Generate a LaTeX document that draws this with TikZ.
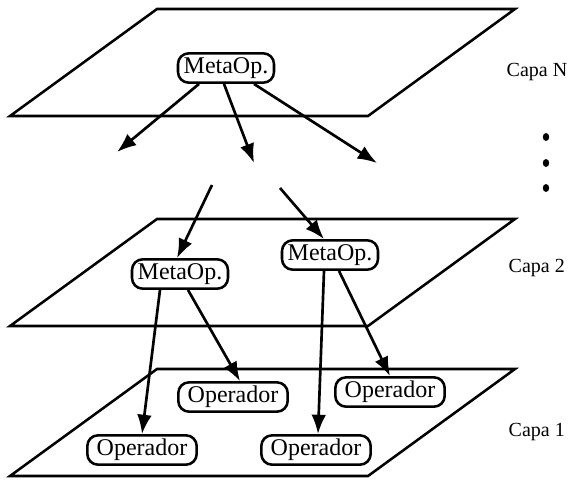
\documentclass[tikz,border=0pt]{standalone}
\usepackage{fontspec}
\setmainfont{Liberation Serif}
\usetikzlibrary{arrows.meta,calc}
\begin{document}
\begin{tikzpicture}[x=0.75pt,y=-0.75pt,
  plane/.style={line width=1.9pt, line join=miter},
  op/.style={draw, line width=1.9pt, rounded corners=8pt, fill=white,
    font=\fontsize{18}{21}\selectfont, inner xsep=3pt, inner ysep=0pt,
    minimum height=22pt, text height=12.5pt, text depth=3.8pt},
  metaop/.style={op, minimum width=72pt},
  operador/.style={op, minimum width=82pt},
  arr/.style={line width=2pt, -{Latex[length=14.5pt,width=11pt]}},
  capa/.style={font=\fontsize{15}{18}\selectfont, anchor=west}]
\useasboundingbox (0,0) rectangle (575,479);
% planes
\draw[plane] (157,9) -- (515,9) -- (368,116) -- (10,116) -- cycle;
\draw[plane] (157,219) -- (515,219) -- (368,326) -- (10,326) -- cycle;
\draw[plane] (157,369) -- (515,369) -- (368,476) -- (10,476) -- cycle;
% nodes
\node[metaop] (mtop) at (226,68) {MetaOp.};
\node[metaop] (ml) at (180,274) {MetaOp.};
\node[metaop] (mr) at (330,255) {MetaOp.};
\node[operador] (opa) at (233,397) {Operador};
\node[operador] (opb) at (390,392) {Operador};
\node[operador] (opc) at (142,450) {Operador};
\node[operador] (opd) at (316,450) {Operador};
% free ends
\coordinate (tl) at (117,152);
\coordinate (tm) at (254,163);
\coordinate (tr) at (377,163);
\coordinate (sl) at (212,185);
\coordinate (sr) at (280,188);
% arrows
\draw[arr] ($(mtop.south)+(-27,0)$) -- (tl);
\draw[arr] ($(mtop.south)+(-2,0)$) -- (tm);
\draw[arr] ($(mtop.south)+(28,0)$) -- (tr);
\draw[arr] (sl) -- ($(ml.north)+(-3,0)$);
\draw[arr] (sr) -- ($(mr.north)+(-6,0)$);
\draw[arr] ($(ml.south)+(-20,0)$) -- (opc.north);
\draw[arr] ($(ml.south)+(8,0)$) -- ($(opa.north)+(7,0)$);
\draw[arr] ($(mr.south)+(-6,0)$) -- ($(opd.north)+(2,0)$);
\draw[arr] ($(mr.south)+(9,0)$) -- (opb.north);
% labels
\node[capa] (cn) at (502,72) {Capa N};
\node[capa] (c2) at (504,268) {Capa 2};
\node[capa] (c1) at (504,432) {Capa 1};
\fill (546,137) ellipse [x radius=2.4pt, y radius=3pt];
\fill (546,163) ellipse [x radius=2.4pt, y radius=3pt];
\fill (546,188) ellipse [x radius=2.4pt, y radius=3pt];
\end{tikzpicture}
\end{document}
